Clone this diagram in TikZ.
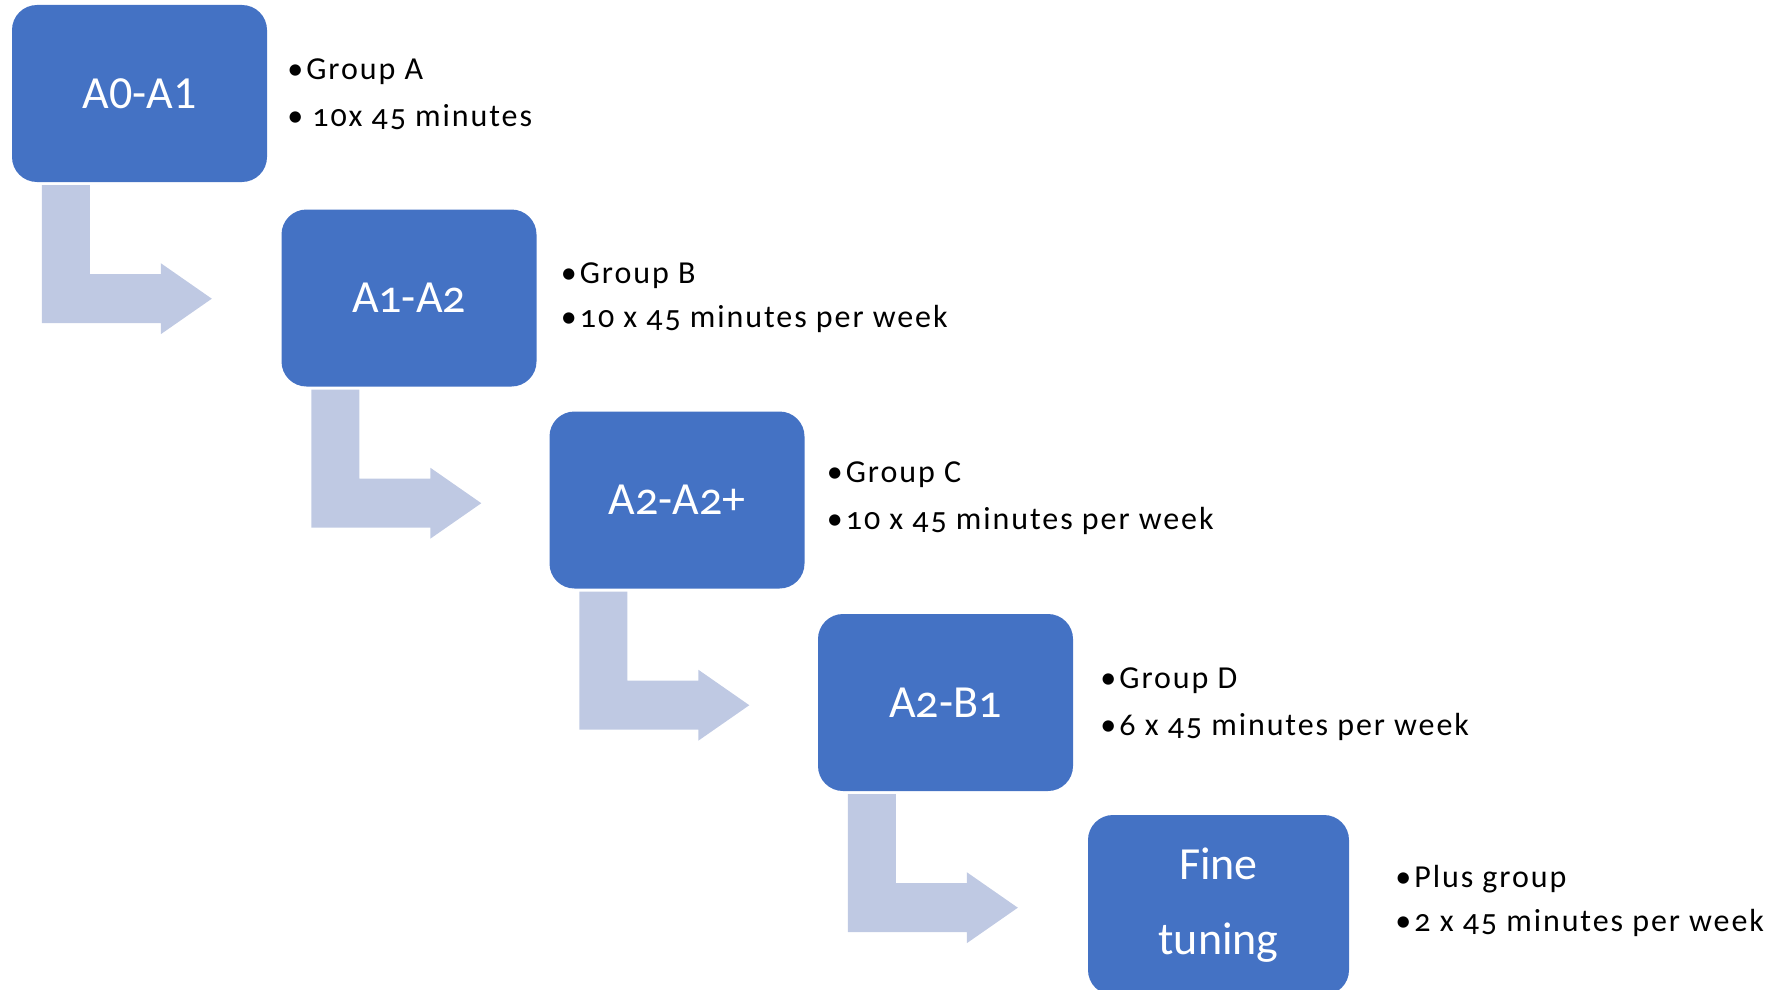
\documentclass[tikz,border=0pt]{standalone}
\usepackage{fontspec}
\setmainfont{Carlito}[Numbers=OldStyle]
\newfontfamily\lining{Carlito}
\newfontfamily\infofont{Carlito}[Numbers=OldStyle, LetterSpace=6]
\usetikzlibrary{calc}
\definecolor{boxblue}{RGB}{68,114,196}
\definecolor{arrowfill}{RGB}{191,201,227}
\tikzset{
  stage/.style={rectangle, rounded corners=25pt, fill=boxblue, text=white,
    minimum width=255pt, minimum height=177pt, inner sep=0pt,
    font=\fontsize{46}{75}\selectfont, align=center},
  info/.style={anchor=base west, inner sep=0pt, font=\infofont\fontsize{32}{36}\selectfont, text=black},
  bendarrow/.style={fill=arrowfill}
}
\newcommand\bul{\makebox[19pt][l]{\textbullet}}
\newcommand\bentarrow[1]{%
  \fill[bendarrow] ($(#1.south west)+(30,3)$) -- ++(48,0) -- ++(0,89) -- ++(71,0)
    -- ++(0,-11) -- ++(51,35.5) -- ++(-51,35.5) -- ++(0,-11) -- ++(-119,0) -- cycle;}
\begin{document}
\begin{tikzpicture}[x=1pt,y=-1pt]
\useasboundingbox (0,0) rectangle (1782,990);
% stages
\node[stage] (b1) at (139.5,93.5) {\lining A0-A1};
\node[stage] (b2) at (409,298) {A1-A2};
\node[stage] (b3) at (677,500) {A2-A2+};
\node[stage] (b4) at (945.5,702.5) {A2-B1};
\node[stage, minimum width=261pt, minimum height=180pt] (b5) at (1218.5,905) {Fine\\tuning};
% bent arrows
\bentarrow{b1}
\bentarrow{b2}
\bentarrow{b3}
\bentarrow{b4}
% info texts
\node[info] (a1) at ($(b1.east)+(20,-13.5)$) {\bul Group A};
\node[info] (a2) at ($(b1.east)+(20,32.5)$) {\bul\hspace{6pt}10x 45 minutes};
\node[info] (c1) at ($(b2.east)+(24,-15)$) {\bul Group B};
\node[info] (c2) at ($(b2.east)+(24,29)$) {\bul 10 x 45 minutes per week};
\node[info] (d1) at ($(b3.east)+(22,-18)$) {\bul Group C};
\node[info] (d2) at ($(b3.east)+(22,29)$) {\bul 10 x 45 minutes per week};
\node[info] (e1) at ($(b4.east)+(27,-14.5)$) {\bul Group D};
\node[info] (e2) at ($(b4.east)+(27,32.5)$) {\bul 6 x 45 minutes per week};
\node[info] (f1) at ($(b5.east)+(46,-18)$) {\bul Plus group};
\node[info] (f2) at ($(b5.east)+(46,26)$) {\bul 2 x 45 minutes per week};
\end{tikzpicture}
\end{document}
